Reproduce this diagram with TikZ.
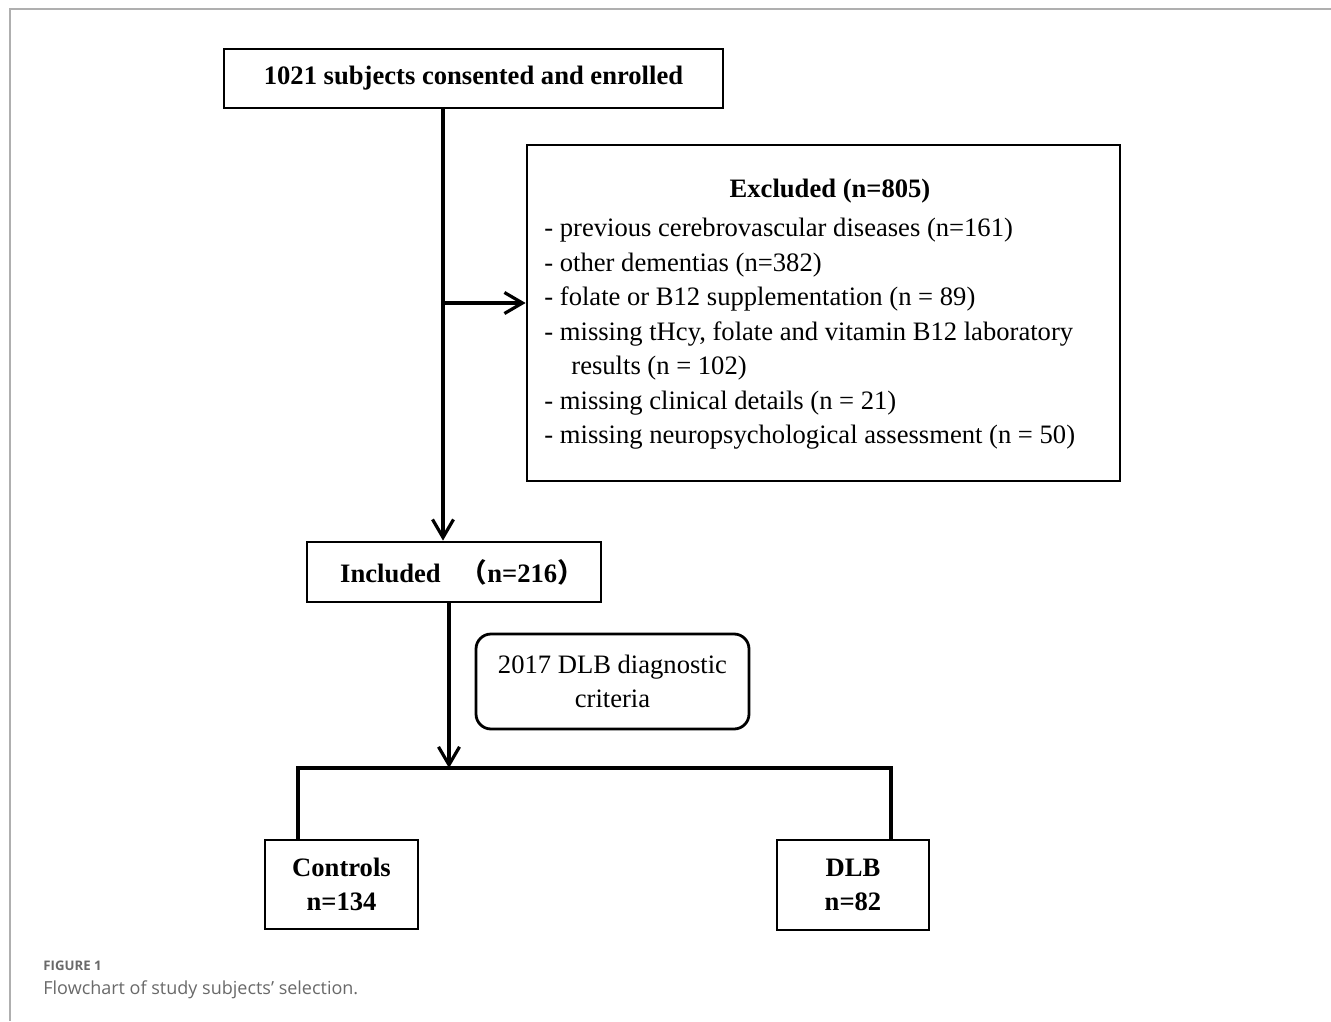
\documentclass[tikz,border=0pt]{standalone}
\usepackage{fontspec}
\setmainfont{Liberation Serif}
\newfontfamily\capfont{Open Sans}
\newfontfamily\cjk{Noto Sans CJK SC}
\usetikzlibrary{arrows.meta}
\definecolor{framegray}{RGB}{175,175,175}
\definecolor{capgray}{RGB}{105,105,105}
\newcommand{\boxfont}{\fontsize{13.3}{17.25}\selectfont}

\begin{document}
\begin{tikzpicture}[x=0.5pt, y=-0.5pt,
		box/.style={draw, line width=1.4pt, inner sep=0pt, align=center, font=\boxfont},
		conn/.style={line width=1.6pt},
		>={Straight Barb[length=9pt,width=10.5pt]}]
	\useasboundingbox (0,0) rectangle (1331,1021);
	\draw[framegray, line width=0.8pt] (1331,9) -- (10,9) -- (10,1021);

	\node[box, minimum width=249.5pt, minimum height=29.5pt, font=\boxfont\bfseries] (enrolled) at (473.5,78.5) {1021 subjects consented and enrolled};
	\node[box, minimum width=296.5pt, minimum height=168pt] (excluded) at (823.5,313) {};
	\node[font=\boxfont\bfseries, inner sep=0pt] (exctitle) at (830,191) {Excluded (n=805)};
	\node[font=\boxfont, align=left, anchor=north west, inner sep=0pt] (exclist) at (544,218) {%
		- previous cerebrovascular diseases (n=161)\\
		- other dementias (n=382)\\
		- folate or B12 supplementation (n = 89)\\
		- missing tHcy, folate and vitamin B12 laboratory\\
		\hspace{13.5pt}results (n = 102)\\
		- missing clinical details (n = 21)\\
		- missing neuropsychological assessment (n = 50)};
	\node[box, minimum width=147pt, minimum height=30pt, font=\boxfont\bfseries] (included) at (454,572) {\hspace{8pt}Included\hspace{10pt}{\cjk （}n=216{\cjk ）}};
	\node[box, rounded corners=7.5pt, minimum width=136.5pt, minimum height=47.5pt] (criteria) at (612.5,681.5) {2017 DLB diagnostic\\criteria};
	\node[box, minimum width=76.5pt, minimum height=44.5pt, font=\boxfont\bfseries] (controls) at (341.5,884.5) {Controls\\n=134};
	\node[box, minimum width=76pt, minimum height=45pt, font=\boxfont\bfseries] (dlb) at (853,885) {DLB\\n=82};

	\coordinate (trunk) at (443,303);
	\coordinate (fork) at (449,768);
	\coordinate (legL) at (298,768);
	\coordinate (legR) at (891,768);

	\draw[conn] (enrolled.south -| trunk) -- (trunk);
	\path[conn, ->]
		(trunk) edge (trunk -| excluded.west)
		(trunk) edge (included.north -| trunk)
		(included.south -| fork) edge (fork);
	\draw[conn] (legL |- controls.north) -- (legL) -- (legR) -- (legR |- dlb.north);

	\node[anchor=base west, inner sep=0pt, text=capgray, font=\capfont\bfseries\fontsize{6.6}{8}\selectfont] (figlabel) at (43,970) {FIGURE 1};
	\node[anchor=base west, inner sep=0pt, text=capgray, font=\capfont\fontsize{9}{10}\selectfont] (caption) at (43,994) {Flowchart of study subjects’ selection.};
\end{tikzpicture}
\end{document}
